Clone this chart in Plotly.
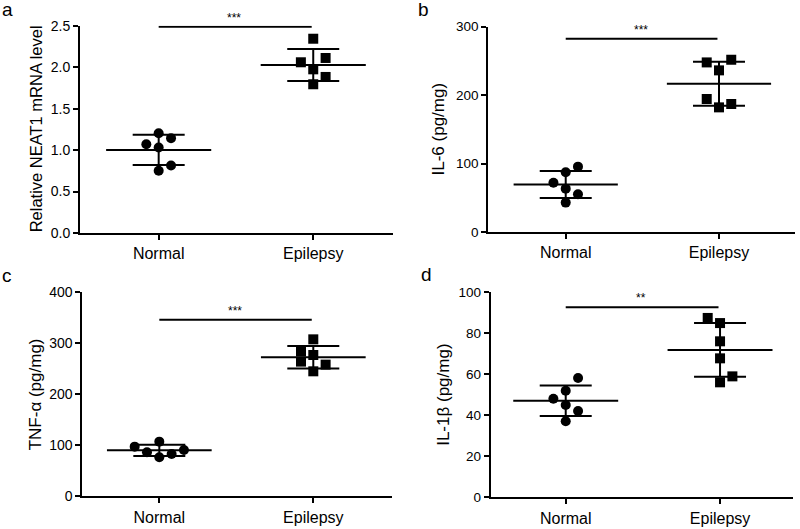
import numpy as np
import plotly.graph_objects as go

# ---------------- data ----------------
categories = ["Normal", "Epilepsy"]

neat1_normal = [1.204, 1.144, 1.071, 1.031, 0.815, 0.750]
neat1_epilepsy = [2.343, 2.059, 2.111, 1.974, 1.882, 1.794]

il6_normal = [95.8, 87.5, 72.4, 63.7, 55.4, 43.3]
il6_epilepsy = [251.8, 247.9, 236.3, 194.5, 187.2, 182.3]

tnfa_normal = [107.2, 97.4, 90.8, 86.3, 83.0, 76.5]
tnfa_epilepsy = [307.8, 284.3, 277.1, 264.1, 258.2, 245.1]

il1b_normal = [58.2, 52.0, 48.1, 45.0, 42.1, 37.1]
il1b_epilepsy = [87.5, 85.0, 76.1, 67.8, 59.0, 56.1]

significance = ["***", "***", "***", "**"]
panel_letters = ["a", "b", "c", "d"]
y_titles = ["Relative NEAT1 mRNA level", "IL-6 (pg/mg)", "TNF-α (pg/mg)", "IL-1β (pg/mg)"]

# jitter columns (in units of point spacing) for the scatter layout
jit_a = ([0, 1, -1, 0, 1, 0], [0, -1, 1, 0, 1, 0])
jit_b = ([1, 0, -1, 0, 1, 0], [1, -1, 0, -1, 1, 0])
jit_c = ([0, -2, 2, -1, 1, 0], [0, -1, 0, -1, 1, 0])
jit_d = ([1, 0, -1, 0, 1, 0], [-1, 0, 0, 0, 1, 0])

# ---------------- layout config ----------------
FONT = "Arial, Liberation Sans, sans-serif"
panels = [
    dict(normal=neat1_normal, epi=neat1_epilepsy, jit=jit_a,
         xdom=[0.1, 0.49125], ydom=[0.5595, 0.9514], xr=[-0.509, 1.516],
         yr=[0, 2.5], dtick=0.5, fmt=".1f", sig_y=2.486, tickfs=14, titlefs=16.5,
         title_x=36 / 800, letter=(7 / 800, 1 - 10 / 529)),
    dict(normal=il6_normal, epi=il6_epilepsy, jit=jit_b,
         xdom=[0.6104, 0.99375], ydom=[0.5609, 0.9495], xr=[-0.505, 1.496],
         yr=[0, 300], dtick=100, fmt="d", sig_y=282.5, tickfs=13.5, titlefs=17,
         title_x=438 / 800, letter=(423 / 800, 1 - 9 / 529)),
    dict(normal=tnfa_normal, epi=tnfa_epilepsy, jit=jit_c,
         xdom=[0.1029, 0.4896], ydom=[0.0618, 0.4474], xr=[-0.5, 1.509],
         yr=[0, 400], dtick=100, fmt="d", sig_y=346, tickfs=14, titlefs=17,
         title_x=35 / 800, letter=(7 / 800, 1 - 275 / 529)),
    dict(normal=il1b_normal, epi=il1b_epilepsy, jit=jit_d,
         xdom=[0.6134, 0.9913], ydom=[0.0599, 0.4474], xr=[-0.486, 1.473],
         yr=[0, 100], dtick=20, fmt="d", sig_y=92.7, tickfs=13.5, titlefs=17,
         title_x=444 / 800, letter=(427 / 800, 1 - 274 / 529)),
]

JIT = 0.08
MEAN_HW = 0.34
CAP_PX = 26

fig = go.Figure()
layout = dict(
    width=800, height=529,
    margin=dict(l=0, r=0, t=0, b=0, autoexpand=False),
    paper_bgcolor="white", plot_bgcolor="white",
    showlegend=False,
    font=dict(family=FONT, color="black"),
    annotations=[],
)

for i, p in enumerate(panels):
    n = i + 1
    xa = "x" if n == 1 else f"x{n}"
    ya = "y" if n == 1 else f"y{n}"
    groups = [(0, p["normal"], p["jit"][0], "circle"), (1, p["epi"], p["jit"][1], "square")]
    for cx, vals, jit, sym in groups:
        arr = np.array(vals)
        m = arr.mean()
        sd = arr.std(ddof=1)
        # SD error bar
        fig.add_trace(go.Scatter(
            x=[cx], y=[m], mode="markers", xaxis=xa, yaxis=ya,
            marker=dict(size=1, color="rgba(0,0,0,0)"),
            error_y=dict(type="data", array=[sd], visible=True, color="black",
                         thickness=2, width=CAP_PX),
            hoverinfo="skip", cliponaxis=False))
        # mean line
        fig.add_trace(go.Scatter(
            x=[cx - MEAN_HW, cx + MEAN_HW], y=[m, m], mode="lines",
            xaxis=xa, yaxis=ya, line=dict(color="black", width=2),
            hoverinfo="skip", cliponaxis=False))
        # points
        fig.add_trace(go.Scatter(
            x=[cx + j * JIT for j in jit], y=vals, mode="markers",
            xaxis=xa, yaxis=ya,
            marker=dict(symbol=sym, size=10, color="black", line=dict(width=0)),
            cliponaxis=False))
    # significance bar
    fig.add_trace(go.Scatter(
        x=[0, 0.99], y=[p["sig_y"], p["sig_y"]], mode="lines",
        xaxis=xa, yaxis=ya, line=dict(color="black", width=2),
        hoverinfo="skip", cliponaxis=False))
    layout["annotations"].append(dict(
        text=significance[i], x=0.49, y=p["sig_y"], xref=xa, yref=ya,
        showarrow=False, yanchor="bottom", yshift=0,
        font=dict(size=12, family=FONT, color="black")))
    # y title
    layout["annotations"].append(dict(
        text=y_titles[i], x=p["title_x"], y=sum(p["ydom"]) / 2,
        xref="paper", yref="paper", showarrow=False, textangle=-90,
        xanchor="center", yanchor="middle",
        font=dict(size=p["titlefs"], family=FONT, color="black")))
    # panel letter
    layout["annotations"].append(dict(
        text=panel_letters[i], x=p["letter"][0], y=p["letter"][1],
        xref="paper", yref="paper", showarrow=False,
        xanchor="center", yanchor="middle",
        font=dict(size=19, family=FONT, color="black")))

    xkey = "xaxis" if n == 1 else f"xaxis{n}"
    ykey = "yaxis" if n == 1 else f"yaxis{n}"
    layout[xkey] = dict(
        domain=p["xdom"], range=p["xr"], anchor=ya,
        tickmode="array", tickvals=[0, 1], ticktext=categories,
        showline=True, linewidth=2, linecolor="black",
        ticks="outside", ticklen=5, tickwidth=2, tickcolor="black",
        showgrid=False, zeroline=False, fixedrange=True,
        tickfont=dict(size=16, family=FONT, color="black"))
    layout[ykey] = dict(
        domain=p["ydom"], range=p["yr"], anchor=xa,
        tick0=0, dtick=p["dtick"], tickformat=p["fmt"],
        showline=True, linewidth=2, linecolor="black",
        ticks="outside", ticklen=5, tickwidth=2, tickcolor="black",
        showgrid=False, zeroline=False, fixedrange=True,
        tickfont=dict(size=p["tickfs"], family=FONT, color="black"))

fig.update_layout(**layout)
fig.write_html(
    "out.html",
    config={"displayModeBar": False},
    post_script="document.body.style.margin='0';document.body.style.overflow='hidden';",
)
